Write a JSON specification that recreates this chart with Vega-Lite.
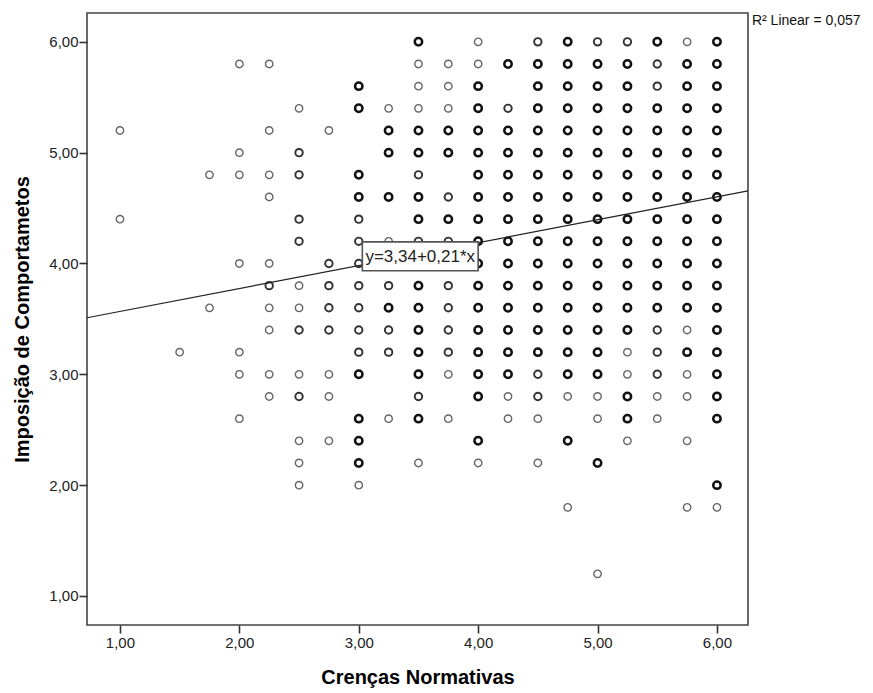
{
  "$schema": "https://vega.github.io/schema/vega-lite/v6.json",
  "autosize": {"type": "none"},
  "width": 661,
  "height": 612,
  "padding": {"left": 87, "top": 13, "right": 125, "bottom": 68},
  "background": "white",
  "config": {
    "view": {"stroke": "#444", "strokeWidth": 1.6},
    "font": "Liberation Sans",
    "axis": {
      "domain": false,
      "grid": false,
      "ticks": true,
      "tickColor": "#333",
      "tickSize": 8,
      "tickWidth": 1.6,
      "labelFont": "Liberation Sans",
      "labelFontSize": 15,
      "labelColor": "#222",
      "titleFont": "Liberation Sans",
      "titleFontSize": 20,
      "titleFontWeight": "bold",
      "titleColor": "#000"
    }
  },
  "layer": [
    {
      "data": {
        "values": [
          {"x": 1.0, "y": 5.2, "n": 1}, {"x": 1.0, "y": 4.4, "n": 1},
          {"x": 1.5, "y": 3.2, "n": 1},
          {"x": 1.75, "y": 4.8, "n": 1}, {"x": 1.75, "y": 3.6, "n": 1},
          {"x": 2.0, "y": 5.8, "n": 1}, {"x": 2.0, "y": 5.0, "n": 1}, {"x": 2.0, "y": 4.8, "n": 1}, {"x": 2.0, "y": 4.0, "n": 1}, {"x": 2.0, "y": 3.2, "n": 1}, {"x": 2.0, "y": 3.0, "n": 1}, {"x": 2.0, "y": 2.6, "n": 1},
          {"x": 2.25, "y": 5.8, "n": 1}, {"x": 2.25, "y": 5.2, "n": 1}, {"x": 2.25, "y": 4.8, "n": 1}, {"x": 2.25, "y": 4.6, "n": 1}, {"x": 2.25, "y": 4.0, "n": 1}, {"x": 2.25, "y": 3.8, "n": 2}, {"x": 2.25, "y": 3.6, "n": 1}, {"x": 2.25, "y": 3.4, "n": 1}, {"x": 2.25, "y": 3.0, "n": 1}, {"x": 2.25, "y": 2.8, "n": 1},
          {"x": 2.5, "y": 5.4, "n": 1}, {"x": 2.5, "y": 5.0, "n": 2}, {"x": 2.5, "y": 4.8, "n": 2}, {"x": 2.5, "y": 4.4, "n": 2}, {"x": 2.5, "y": 4.2, "n": 2}, {"x": 2.5, "y": 3.8, "n": 1}, {"x": 2.5, "y": 3.6, "n": 1}, {"x": 2.5, "y": 3.4, "n": 2}, {"x": 2.5, "y": 3.0, "n": 1}, {"x": 2.5, "y": 2.8, "n": 2}, {"x": 2.5, "y": 2.4, "n": 1}, {"x": 2.5, "y": 2.2, "n": 1}, {"x": 2.5, "y": 2.0, "n": 1},
          {"x": 2.75, "y": 5.2, "n": 1}, {"x": 2.75, "y": 4.0, "n": 2}, {"x": 2.75, "y": 3.8, "n": 2}, {"x": 2.75, "y": 3.6, "n": 2}, {"x": 2.75, "y": 3.4, "n": 2}, {"x": 2.75, "y": 3.0, "n": 1}, {"x": 2.75, "y": 2.8, "n": 1}, {"x": 2.75, "y": 2.4, "n": 1},
          {"x": 3.0, "y": 5.6, "n": 3}, {"x": 3.0, "y": 5.4, "n": 3}, {"x": 3.0, "y": 4.8, "n": 3}, {"x": 3.0, "y": 4.6, "n": 3}, {"x": 3.0, "y": 4.4, "n": 2}, {"x": 3.0, "y": 4.2, "n": 2}, {"x": 3.0, "y": 4.0, "n": 2}, {"x": 3.0, "y": 3.8, "n": 2}, {"x": 3.0, "y": 3.6, "n": 2}, {"x": 3.0, "y": 3.4, "n": 2}, {"x": 3.0, "y": 3.2, "n": 2}, {"x": 3.0, "y": 3.0, "n": 3}, {"x": 3.0, "y": 2.6, "n": 3}, {"x": 3.0, "y": 2.4, "n": 3}, {"x": 3.0, "y": 2.2, "n": 3}, {"x": 3.0, "y": 2.0, "n": 1},
          {"x": 3.25, "y": 5.4, "n": 1}, {"x": 3.25, "y": 5.2, "n": 3}, {"x": 3.25, "y": 5.0, "n": 3}, {"x": 3.25, "y": 4.6, "n": 3}, {"x": 3.25, "y": 4.2, "n": 1}, {"x": 3.25, "y": 3.8, "n": 2}, {"x": 3.25, "y": 3.6, "n": 3}, {"x": 3.25, "y": 3.4, "n": 2}, {"x": 3.25, "y": 3.2, "n": 2}, {"x": 3.25, "y": 2.6, "n": 1},
          {"x": 3.5, "y": 6.0, "n": 3}, {"x": 3.5, "y": 5.8, "n": 1}, {"x": 3.5, "y": 5.6, "n": 1}, {"x": 3.5, "y": 5.4, "n": 1}, {"x": 3.5, "y": 5.2, "n": 3}, {"x": 3.5, "y": 5.0, "n": 3}, {"x": 3.5, "y": 4.8, "n": 2}, {"x": 3.5, "y": 4.6, "n": 3}, {"x": 3.5, "y": 4.4, "n": 3}, {"x": 3.5, "y": 4.2, "n": 2}, {"x": 3.5, "y": 4.0, "n": 2}, {"x": 3.5, "y": 3.8, "n": 3}, {"x": 3.5, "y": 3.6, "n": 3}, {"x": 3.5, "y": 3.4, "n": 3}, {"x": 3.5, "y": 3.2, "n": 3}, {"x": 3.5, "y": 3.0, "n": 3}, {"x": 3.5, "y": 2.8, "n": 2}, {"x": 3.5, "y": 2.6, "n": 3}, {"x": 3.5, "y": 2.2, "n": 1},
          {"x": 3.75, "y": 5.8, "n": 1}, {"x": 3.75, "y": 5.6, "n": 1}, {"x": 3.75, "y": 5.4, "n": 1}, {"x": 3.75, "y": 5.2, "n": 3}, {"x": 3.75, "y": 5.0, "n": 3}, {"x": 3.75, "y": 4.6, "n": 2}, {"x": 3.75, "y": 4.4, "n": 3}, {"x": 3.75, "y": 4.2, "n": 2}, {"x": 3.75, "y": 4.0, "n": 2}, {"x": 3.75, "y": 3.8, "n": 2}, {"x": 3.75, "y": 3.6, "n": 2}, {"x": 3.75, "y": 3.4, "n": 2}, {"x": 3.75, "y": 3.2, "n": 2}, {"x": 3.75, "y": 3.0, "n": 1}, {"x": 3.75, "y": 2.6, "n": 1},
          {"x": 4.0, "y": 6.0, "n": 1}, {"x": 4.0, "y": 5.8, "n": 1}, {"x": 4.0, "y": 5.6, "n": 3}, {"x": 4.0, "y": 5.4, "n": 3}, {"x": 4.0, "y": 5.2, "n": 3}, {"x": 4.0, "y": 5.0, "n": 3}, {"x": 4.0, "y": 4.8, "n": 3}, {"x": 4.0, "y": 4.6, "n": 3}, {"x": 4.0, "y": 4.4, "n": 3}, {"x": 4.0, "y": 4.2, "n": 3}, {"x": 4.0, "y": 4.0, "n": 3}, {"x": 4.0, "y": 3.8, "n": 3}, {"x": 4.0, "y": 3.6, "n": 3}, {"x": 4.0, "y": 3.4, "n": 3}, {"x": 4.0, "y": 3.2, "n": 3}, {"x": 4.0, "y": 3.0, "n": 3}, {"x": 4.0, "y": 2.8, "n": 3}, {"x": 4.0, "y": 2.4, "n": 3}, {"x": 4.0, "y": 2.2, "n": 1},
          {"x": 4.25, "y": 5.8, "n": 3}, {"x": 4.25, "y": 5.4, "n": 2}, {"x": 4.25, "y": 5.2, "n": 3}, {"x": 4.25, "y": 5.0, "n": 3}, {"x": 4.25, "y": 4.8, "n": 3}, {"x": 4.25, "y": 4.6, "n": 3}, {"x": 4.25, "y": 4.4, "n": 3}, {"x": 4.25, "y": 4.2, "n": 3}, {"x": 4.25, "y": 4.0, "n": 3}, {"x": 4.25, "y": 3.8, "n": 3}, {"x": 4.25, "y": 3.6, "n": 3}, {"x": 4.25, "y": 3.4, "n": 3}, {"x": 4.25, "y": 3.2, "n": 3}, {"x": 4.25, "y": 3.0, "n": 3}, {"x": 4.25, "y": 2.8, "n": 1}, {"x": 4.25, "y": 2.6, "n": 1},
          {"x": 4.5, "y": 6.0, "n": 2}, {"x": 4.5, "y": 5.8, "n": 3}, {"x": 4.5, "y": 5.6, "n": 3}, {"x": 4.5, "y": 5.4, "n": 3}, {"x": 4.5, "y": 5.2, "n": 3}, {"x": 4.5, "y": 5.0, "n": 3}, {"x": 4.5, "y": 4.8, "n": 3}, {"x": 4.5, "y": 4.6, "n": 3}, {"x": 4.5, "y": 4.4, "n": 3}, {"x": 4.5, "y": 4.2, "n": 3}, {"x": 4.5, "y": 4.0, "n": 3}, {"x": 4.5, "y": 3.8, "n": 3}, {"x": 4.5, "y": 3.6, "n": 3}, {"x": 4.5, "y": 3.4, "n": 3}, {"x": 4.5, "y": 3.2, "n": 3}, {"x": 4.5, "y": 3.0, "n": 2}, {"x": 4.5, "y": 2.8, "n": 2}, {"x": 4.5, "y": 2.6, "n": 1}, {"x": 4.5, "y": 2.2, "n": 1},
          {"x": 4.75, "y": 6.0, "n": 3}, {"x": 4.75, "y": 5.8, "n": 3}, {"x": 4.75, "y": 5.6, "n": 3}, {"x": 4.75, "y": 5.4, "n": 3}, {"x": 4.75, "y": 5.2, "n": 3}, {"x": 4.75, "y": 5.0, "n": 3}, {"x": 4.75, "y": 4.8, "n": 3}, {"x": 4.75, "y": 4.6, "n": 3}, {"x": 4.75, "y": 4.4, "n": 3}, {"x": 4.75, "y": 4.2, "n": 3}, {"x": 4.75, "y": 4.0, "n": 3}, {"x": 4.75, "y": 3.8, "n": 3}, {"x": 4.75, "y": 3.6, "n": 3}, {"x": 4.75, "y": 3.4, "n": 3}, {"x": 4.75, "y": 3.2, "n": 3}, {"x": 4.75, "y": 3.0, "n": 3}, {"x": 4.75, "y": 2.8, "n": 1}, {"x": 4.75, "y": 2.4, "n": 3}, {"x": 4.75, "y": 1.8, "n": 1},
          {"x": 5.0, "y": 6.0, "n": 2}, {"x": 5.0, "y": 5.8, "n": 3}, {"x": 5.0, "y": 5.6, "n": 3}, {"x": 5.0, "y": 5.4, "n": 3}, {"x": 5.0, "y": 5.2, "n": 3}, {"x": 5.0, "y": 5.0, "n": 3}, {"x": 5.0, "y": 4.8, "n": 3}, {"x": 5.0, "y": 4.6, "n": 3}, {"x": 5.0, "y": 4.4, "n": 3}, {"x": 5.0, "y": 4.2, "n": 3}, {"x": 5.0, "y": 4.0, "n": 3}, {"x": 5.0, "y": 3.8, "n": 3}, {"x": 5.0, "y": 3.6, "n": 3}, {"x": 5.0, "y": 3.4, "n": 3}, {"x": 5.0, "y": 3.2, "n": 3}, {"x": 5.0, "y": 3.0, "n": 3}, {"x": 5.0, "y": 2.8, "n": 1}, {"x": 5.0, "y": 2.6, "n": 1}, {"x": 5.0, "y": 2.2, "n": 3}, {"x": 5.0, "y": 1.2, "n": 1},
          {"x": 5.25, "y": 6.0, "n": 2}, {"x": 5.25, "y": 5.8, "n": 3}, {"x": 5.25, "y": 5.6, "n": 3}, {"x": 5.25, "y": 5.4, "n": 3}, {"x": 5.25, "y": 5.2, "n": 3}, {"x": 5.25, "y": 5.0, "n": 3}, {"x": 5.25, "y": 4.8, "n": 3}, {"x": 5.25, "y": 4.6, "n": 3}, {"x": 5.25, "y": 4.4, "n": 3}, {"x": 5.25, "y": 4.2, "n": 3}, {"x": 5.25, "y": 4.0, "n": 3}, {"x": 5.25, "y": 3.8, "n": 3}, {"x": 5.25, "y": 3.6, "n": 3}, {"x": 5.25, "y": 3.4, "n": 3}, {"x": 5.25, "y": 3.2, "n": 1}, {"x": 5.25, "y": 3.0, "n": 1}, {"x": 5.25, "y": 2.8, "n": 3}, {"x": 5.25, "y": 2.6, "n": 3}, {"x": 5.25, "y": 2.4, "n": 1},
          {"x": 5.5, "y": 6.0, "n": 3}, {"x": 5.5, "y": 5.8, "n": 2}, {"x": 5.5, "y": 5.6, "n": 2}, {"x": 5.5, "y": 5.4, "n": 3}, {"x": 5.5, "y": 5.2, "n": 3}, {"x": 5.5, "y": 5.0, "n": 3}, {"x": 5.5, "y": 4.8, "n": 3}, {"x": 5.5, "y": 4.6, "n": 3}, {"x": 5.5, "y": 4.4, "n": 3}, {"x": 5.5, "y": 4.2, "n": 3}, {"x": 5.5, "y": 4.0, "n": 3}, {"x": 5.5, "y": 3.8, "n": 3}, {"x": 5.5, "y": 3.6, "n": 3}, {"x": 5.5, "y": 3.4, "n": 2}, {"x": 5.5, "y": 3.2, "n": 2}, {"x": 5.5, "y": 3.0, "n": 2}, {"x": 5.5, "y": 2.8, "n": 1}, {"x": 5.5, "y": 2.6, "n": 1},
          {"x": 5.75, "y": 6.0, "n": 1}, {"x": 5.75, "y": 5.8, "n": 3}, {"x": 5.75, "y": 5.6, "n": 3}, {"x": 5.75, "y": 5.4, "n": 3}, {"x": 5.75, "y": 5.2, "n": 3}, {"x": 5.75, "y": 5.0, "n": 3}, {"x": 5.75, "y": 4.8, "n": 3}, {"x": 5.75, "y": 4.6, "n": 3}, {"x": 5.75, "y": 4.4, "n": 3}, {"x": 5.75, "y": 4.2, "n": 3}, {"x": 5.75, "y": 4.0, "n": 3}, {"x": 5.75, "y": 3.8, "n": 3}, {"x": 5.75, "y": 3.6, "n": 3}, {"x": 5.75, "y": 3.4, "n": 1}, {"x": 5.75, "y": 3.2, "n": 3}, {"x": 5.75, "y": 3.0, "n": 1}, {"x": 5.75, "y": 2.8, "n": 1}, {"x": 5.75, "y": 2.4, "n": 1}, {"x": 5.75, "y": 1.8, "n": 1},
          {"x": 6.0, "y": 6.0, "n": 3}, {"x": 6.0, "y": 5.8, "n": 3}, {"x": 6.0, "y": 5.6, "n": 3}, {"x": 6.0, "y": 5.4, "n": 3}, {"x": 6.0, "y": 5.2, "n": 3}, {"x": 6.0, "y": 5.0, "n": 3}, {"x": 6.0, "y": 4.8, "n": 3}, {"x": 6.0, "y": 4.6, "n": 3}, {"x": 6.0, "y": 4.4, "n": 3}, {"x": 6.0, "y": 4.2, "n": 3}, {"x": 6.0, "y": 4.0, "n": 3}, {"x": 6.0, "y": 3.8, "n": 3}, {"x": 6.0, "y": 3.6, "n": 3}, {"x": 6.0, "y": 3.4, "n": 3}, {"x": 6.0, "y": 3.2, "n": 3}, {"x": 6.0, "y": 3.0, "n": 3}, {"x": 6.0, "y": 2.8, "n": 3}, {"x": 6.0, "y": 2.6, "n": 3}, {"x": 6.0, "y": 2.0, "n": 3}, {"x": 6.0, "y": 1.8, "n": 1}
        ]
      },
      "mark": {"type": "point", "shape": "circle", "filled": false, "size": 55, "opacity": 1},
      "encoding": {
        "x": {
          "field": "x", "type": "quantitative",
          "scale": {"domain": [0.724, 6.26], "nice": false, "zero": false},
          "axis": {"values": [1, 2, 3, 4, 5, 6], "labelExpr": "replace(format(datum.value, '.2f'), '.', ',')", "title": "Crenças Normativas", "labelPadding": 2, "titlePadding": 17}
        },
        "y": {
          "field": "y", "type": "quantitative",
          "scale": {"domain": [0.738, 6.26], "nice": false, "zero": false},
          "axis": {"values": [1, 2, 3, 4, 5, 6], "labelExpr": "replace(format(datum.value, '.2f'), '.', ',')", "title": "Imposição de Comportametos", "labelPadding": 1, "titlePadding": 16}
        },
        "color": {"field": "n", "type": "ordinal", "scale": {"domain": [1, 2, 3], "range": ["#666666", "#333333", "#111111"]}, "legend": null},
        "strokeWidth": {"field": "n", "type": "quantitative", "scale": {"domain": [1, 3], "range": [1.4, 2.5]}, "legend": null}
      }
    },
    {
      "data": {"values": [{"x": 0.724, "y": 3.51}, {"x": 6.26, "y": 4.655}]},
      "mark": {"type": "line", "color": "#222", "strokeWidth": 1.2},
      "encoding": {
        "x": {"field": "x", "type": "quantitative"},
        "y": {"field": "y", "type": "quantitative"}
      }
    },
    {
      "data": {"values": [{"x1": 3.03, "x2": 4.0, "y1": 3.935, "y2": 4.195}]},
      "mark": {"type": "rect", "fill": "white", "stroke": "#555", "strokeWidth": 1.6},
      "encoding": {
        "x": {"field": "x1", "type": "quantitative"},
        "x2": {"field": "x2"},
        "y": {"field": "y1", "type": "quantitative"},
        "y2": {"field": "y2"}
      }
    },
    {
      "data": {"values": [{"x": 3.515, "y": 4.06, "label": "y=3,34+0,21*x"}]},
      "mark": {"type": "text", "fontSize": 17, "font": "Liberation Sans", "color": "#222", "align": "center", "baseline": "middle"},
      "encoding": {
        "x": {"field": "x", "type": "quantitative"},
        "y": {"field": "y", "type": "quantitative"},
        "text": {"field": "label"}
      }
    },
    {
      "data": {"values": [{"x": 6.293, "y": 6.19, "label": "R² Linear = 0,057"}]},
      "mark": {"type": "text", "fontSize": 14, "font": "Liberation Sans", "color": "#111", "align": "left", "baseline": "middle", "clip": false},
      "encoding": {
        "x": {"field": "x", "type": "quantitative"},
        "y": {"field": "y", "type": "quantitative"},
        "text": {"field": "label"}
      }
    }
  ]
}
